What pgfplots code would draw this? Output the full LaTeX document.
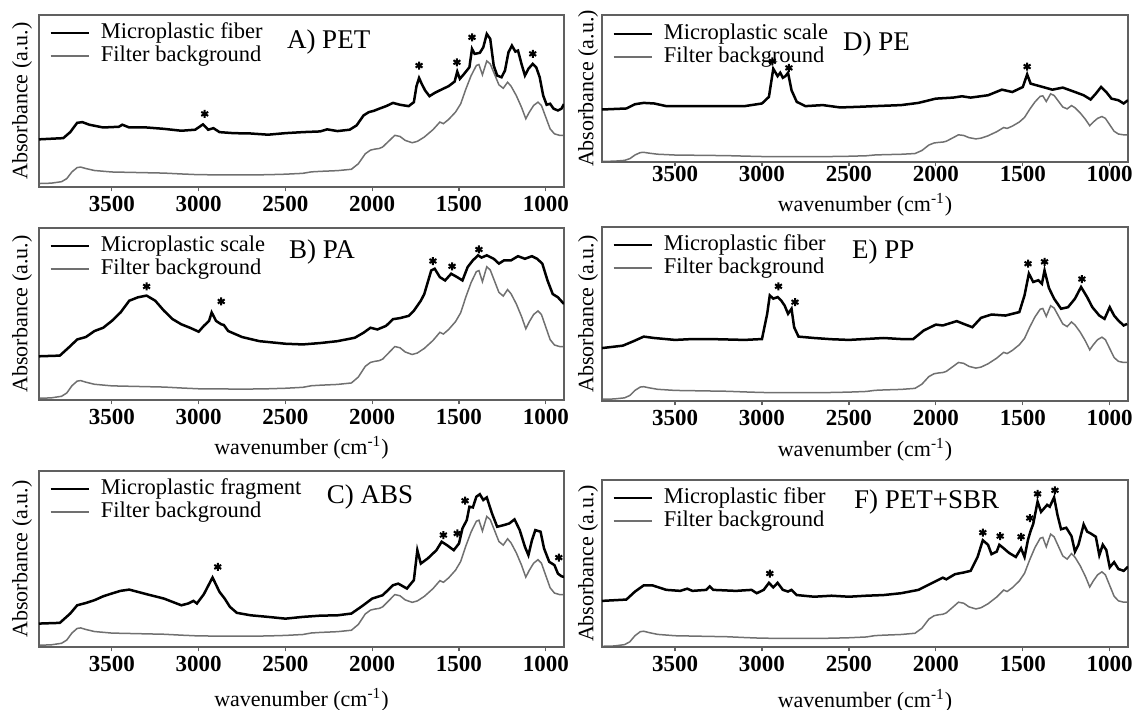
\documentclass[border=0pt]{standalone}
\usepackage{fontspec}
\setmainfont{Liberation Serif}
\usepackage{pgfplots}
\pgfplotsset{compat=1.18}
\usepackage{pgfplotstable}

\definecolor{bgray}{HTML}{707070}
\definecolor{framec}{HTML}{606060}

% filter background spectrum (same filter in every panel), relative units
\pgfplotstableread{
x g
3920 0.000
3850 0.003
3790 0.015
3760 0.040
3730 0.095
3700 0.130
3680 0.134
3650 0.122
3600 0.106
3500 0.094
3400 0.091
3300 0.088
3200 0.085
3100 0.078
3000 0.072
2900 0.071
2800 0.070
2700 0.070
2600 0.072
2500 0.076
2400 0.083
2350 0.095
2300 0.099
2200 0.105
2120 0.116
2080 0.161
2040 0.242
2010 0.272
1985 0.280
1960 0.285
1940 0.297
1900 0.351
1870 0.392
1840 0.383
1810 0.351
1770 0.332
1740 0.343
1700 0.378
1650 0.438
1610 0.500
1590 0.487
1560 0.521
1520 0.581
1490 0.649
1460 0.770
1430 0.878
1400 0.960
1385 0.968
1365 0.884
1340 0.997
1320 0.973
1300 0.905
1270 0.803
1245 0.775
1220 0.824
1200 0.792
1170 0.716
1140 0.621
1115 0.527
1095 0.580
1070 0.635
1045 0.662
1025 0.635
1000 0.540
975 0.445
950 0.404
920 0.392
895 0.392
}\filtertab

\pgfplotsset{
  panel/.style={scale only axis, x dir=reverse, xmin=895, xmax=3920},
  over/.style={panel, hide axis},
  main/.style={panel, ymin=0, ymax=1,
    axis line style={framec, line width=0.6pt},
    xtick={1000,1500,2000,2500,3000,3500}, ytick=\empty,
    xtick pos=left, xtick align=outside, major tick length=2.2pt,
    xtick style={framec, line width=0.6pt},
    xticklabel style={font=\fontsize{11.5}{12}\selectfont\bfseries, yshift=1pt},
    /pgf/number format/assume math mode=true, /pgf/number format/1000 sep={},
    ylabel={Absorbance (a.u.)},
    ylabel style={font=\fontsize{11}{12}\selectfont, at={(axis description cs:-0.0324,0.5)}, anchor=center},
    xlabel style={font=\fontsize{11}{12}\selectfont, at={(axis description cs:0.5,0)}, anchor=center},
    legend style={draw=none, fill=none, at={(axis description cs:0,1)}, anchor=north west,
      xshift=5pt, yshift=-3pt, inner sep=0pt, row sep=0pt, column sep=5pt,
      font=\fontsize{11.25}{12}\selectfont,
      nodes={inner sep=0.5pt, text height=8pt, text depth=2.5pt}},
    legend cell align=left,
    legend image code/.code={\draw[##1] (0pt,0pt) -- (19pt,0pt);},
  },
  spec/.style={black, line width=1.25pt},
  filt/.style={bgray, line width=0.75pt},
  stars/.style={only marks, mark=asterisk, mark size=2pt, black, mark options={line width=1pt}, forget plot},
}
\newcommand{\plabel}[3]{\node[anchor=west, font=\fontsize{13.5}{15}\selectfont] at (rel axis cs:#1,#2) {#3};}
\newcommand{\wn}{wavenumber (cm\textsuperscript{-1})}

\begin{document}
\begin{tikzpicture}
\path[use as bounding box] (0,0) rectangle (568.5pt,355pt);

% ---------------- A) PET ----------------
\begin{axis}[over, at={(19.5pt,261.5pt)}, anchor=south west, width=262.5pt, height=86pt, ymin=-0.028, ymax=1.371]
\addplot[filt] table[x=x,y=g] {\filtertab};
\end{axis}
\begin{axis}[main, at={(19.5pt,261.5pt)}, anchor=south west, width=262.5pt, height=86pt]
\addplot[spec] table {
3920 0.277
3780 0.284
3740 0.319
3700 0.373
3670 0.377
3630 0.362
3550 0.346
3460 0.350
3440 0.362
3400 0.346
3300 0.346
3200 0.338
3100 0.327
3020 0.333
2975 0.364
2945 0.333
2915 0.342
2880 0.319
2800 0.313
2700 0.311
2600 0.304
2500 0.313
2400 0.319
2300 0.323
2260 0.335
2200 0.325
2130 0.333
2090 0.358
2050 0.416
2020 0.435
1990 0.443
1960 0.455
1920 0.470
1880 0.489
1840 0.478
1790 0.470
1760 0.493
1745 0.586
1730 0.634
1715 0.600
1695 0.561
1670 0.528
1640 0.547
1600 0.567
1560 0.586
1525 0.613
1510 0.671
1495 0.629
1470 0.658
1440 0.696
1425 0.803
1410 0.774
1380 0.780
1360 0.812
1340 0.890
1320 0.861
1300 0.706
1280 0.648
1255 0.638
1235 0.677
1215 0.783
1195 0.822
1175 0.787
1160 0.793
1140 0.716
1120 0.648
1100 0.687
1075 0.716
1055 0.696
1035 0.638
1015 0.532
995 0.478
975 0.484
955 0.455
930 0.445
910 0.455
895 0.482
};
\addlegendentry{Microplastic fiber}
\addlegendimage{filt}
\addlegendentry{Filter background}
\addplot[stars] coordinates {(2965,0.425) (1730,0.706) (1512,0.725) (1425,0.870) (1075,0.774)};
\plabel{0.459}{0.84}{A) PET}
\end{axis}

% ---------------- B) PA ----------------
\begin{axis}[over, at={(19.5pt,155pt)}, anchor=south west, width=262.5pt, height=86pt, ymin=-0.013, ymax=1.291]
\addplot[filt] table[x=x,y=g] {\filtertab};
\end{axis}
\begin{axis}[main, at={(19.5pt,155pt)}, anchor=south west, width=262.5pt, height=86pt,
  xlabel={\wn}, xlabel style={yshift=-24pt}]
\addplot[spec] table {
3920 0.254
3800 0.258
3740 0.313
3700 0.352
3650 0.366
3600 0.401
3550 0.420
3500 0.460
3450 0.509
3400 0.577
3350 0.597
3300 0.607
3250 0.577
3200 0.519
3150 0.470
3100 0.440
3050 0.420
3000 0.397
2970 0.431
2940 0.460
2925 0.509
2900 0.460
2870 0.440
2855 0.436
2830 0.401
2750 0.366
2650 0.342
2500 0.327
2400 0.323
2300 0.331
2200 0.342
2100 0.362
2050 0.391
2010 0.420
1970 0.410
1920 0.431
1880 0.470
1840 0.476
1790 0.489
1760 0.519
1720 0.577
1700 0.616
1660 0.753
1640 0.763
1610 0.714
1580 0.695
1545 0.734
1510 0.714
1480 0.695
1450 0.773
1420 0.812
1390 0.841
1370 0.828
1340 0.841
1300 0.821
1270 0.793
1240 0.812
1200 0.812
1160 0.836
1120 0.821
1080 0.836
1050 0.821
1020 0.793
990 0.695
960 0.616
930 0.597
895 0.558
};
\addlegendentry{Microplastic scale}
\addlegendimage{filt}
\addlegendentry{Filter background}
\addplot[stars] coordinates {(3300,0.660) (2870,0.573) (1650,0.808) (1540,0.777) (1385,0.875)};
\plabel{0.463}{0.86}{B) PA}
\end{axis}

% ---------------- C) ABS ----------------
\begin{axis}[over, at={(19.5pt,31.5pt)}, anchor=south west, width=262.5pt, height=88pt, ymin=-0.0136, ymax=1.349]
\addplot[filt] table[x=x,y=g] {\filtertab};
\end{axis}
\begin{axis}[main, at={(19.5pt,31.5pt)}, anchor=south west, width=262.5pt, height=88pt,
  xlabel={\wn}, xlabel style={yshift=-26.5pt}]
\addplot[spec] table {
3920 0.133
3800 0.137
3740 0.190
3700 0.237
3650 0.250
3600 0.266
3550 0.288
3500 0.304
3450 0.319
3400 0.326
3350 0.313
3300 0.300
3200 0.275
3100 0.237
3060 0.247
3030 0.262
3010 0.247
2970 0.300
2920 0.395
2880 0.313
2850 0.275
2820 0.228
2780 0.194
2700 0.180
2600 0.171
2500 0.161
2400 0.171
2300 0.178
2200 0.180
2120 0.190
2060 0.231
2000 0.275
1940 0.294
1880 0.351
1850 0.360
1800 0.332
1760 0.380
1740 0.550
1720 0.474
1680 0.503
1630 0.550
1600 0.598
1570 0.579
1530 0.550
1500 0.588
1480 0.674
1455 0.721
1440 0.797
1420 0.793
1400 0.854
1380 0.868
1360 0.835
1340 0.850
1310 0.759
1280 0.683
1240 0.693
1210 0.702
1180 0.725
1150 0.664
1120 0.569
1100 0.522
1080 0.605
1060 0.664
1030 0.655
1010 0.560
980 0.484
950 0.465
930 0.417
910 0.402
895 0.398
};
\addlegendentry{Microplastic fragment}
\addlegendimage{filt}
\addlegendentry{Filter background}
\addplot[stars] coordinates {(2890,0.455) (1590,0.636) (1510,0.645) (1465,0.831) (925,0.508)};
\plabel{0.535}{0.852}{C) ABS}
\end{axis}

% ---------------- D) PE ----------------
\begin{axis}[over, at={(301pt,274pt)}, anchor=south west, width=263pt, height=73.5pt, ymin=-0.0087, ymax=2.161]
\addplot[filt] table[x=x,y=g] {\filtertab};
\end{axis}
\begin{axis}[main, at={(301pt,274pt)}, anchor=south west, width=263pt, height=73.5pt,
  xlabel={\wn}, xlabel style={yshift=-21.5pt}, xticklabel style={yshift=2.5pt},
  legend style={yshift=-0.5pt},
  ylabel style={at={(axis description cs:-0.0266,0.5)}}]
\addplot[spec] table {
3920 0.357
3780 0.364
3730 0.393
3680 0.402
3620 0.398
3550 0.380
3400 0.380
3300 0.380
3100 0.380
3000 0.398
2960 0.443
2935 0.634
2910 0.584
2895 0.607
2880 0.573
2865 0.584
2850 0.607
2830 0.488
2800 0.409
2750 0.380
2650 0.387
2550 0.371
2450 0.375
2350 0.380
2200 0.387
2100 0.402
2000 0.431
1900 0.438
1850 0.447
1800 0.438
1700 0.454
1620 0.492
1560 0.476
1500 0.510
1475 0.596
1455 0.533
1400 0.515
1330 0.492
1270 0.506
1200 0.476
1150 0.454
1110 0.425
1080 0.465
1050 0.510
1020 0.476
990 0.431
950 0.420
920 0.398
895 0.420
};
\addlegendentry{Microplastic scale}
\addlegendimage{filt}
\addlegendentry{Filter background}
\addplot[stars] coordinates {(2940,0.685) (2845,0.640) (1475,0.649)};
\plabel{0.445}{0.80}{D) PE}
\end{axis}

% ---------------- E) PP ----------------
\begin{axis}[over, at={(301pt,154.5pt)}, anchor=south west, width=263pt, height=87pt, ymin=-0.0186, ymax=1.837]
\addplot[filt] table[x=x,y=g] {\filtertab};
\end{axis}
\begin{axis}[main, at={(301pt,154.5pt)}, anchor=south west, width=263pt, height=87pt,
  xlabel={\wn}, xlabel style={yshift=-24.5pt},
  ylabel style={at={(axis description cs:-0.0266,0.5)}}]
\addplot[spec] table {
3920 0.304
3800 0.318
3740 0.343
3680 0.370
3620 0.362
3500 0.351
3400 0.356
3300 0.356
3100 0.351
3000 0.356
2970 0.501
2955 0.607
2935 0.588
2910 0.597
2890 0.578
2870 0.549
2850 0.501
2830 0.530
2815 0.424
2790 0.370
2700 0.362
2600 0.355
2500 0.351
2300 0.362
2200 0.356
2130 0.356
2070 0.405
2000 0.439
1960 0.434
1880 0.459
1840 0.443
1790 0.424
1740 0.478
1680 0.497
1600 0.491
1520 0.511
1490 0.607
1465 0.732
1440 0.684
1410 0.694
1390 0.674
1375 0.751
1350 0.650
1320 0.588
1280 0.530
1240 0.539
1200 0.588
1165 0.655
1130 0.597
1100 0.539
1060 0.491
1030 0.472
1000 0.539
975 0.491
950 0.462
920 0.434
900 0.443
};
\addlegendentry{Microplastic fiber}
\addlegendimage{filt}
\addlegendentry{Filter background}
\addplot[stars] coordinates {(2905,0.659) (2810,0.568) (1470,0.789) (1375,0.800) (1160,0.701)};
\plabel{0.462}{0.856}{E) PP}
\end{axis}

% ---------------- F) PET+SBR ----------------
\begin{axis}[over, at={(301pt,31.5pt)}, anchor=south west, width=263pt, height=83.5pt, ymin=-0.006, ymax=1.478]
\addplot[filt] table[x=x,y=g] {\filtertab};
\end{axis}
\begin{axis}[main, at={(301pt,31.5pt)}, anchor=south west, width=263pt, height=83.5pt,
  xlabel={\wn}, xlabel style={yshift=-27pt},
  ylabel style={at={(axis description cs:-0.0266,0.5)}}]
\addplot[spec] table {
3920 0.276
3780 0.284
3730 0.332
3680 0.369
3630 0.369
3550 0.342
3470 0.336
3430 0.349
3400 0.336
3320 0.342
3300 0.363
3280 0.342
3150 0.336
3060 0.342
3030 0.322
2990 0.342
2960 0.384
2935 0.357
2910 0.384
2880 0.342
2850 0.332
2830 0.342
2800 0.311
2700 0.301
2600 0.307
2500 0.301
2400 0.307
2300 0.311
2200 0.322
2100 0.342
2020 0.384
1960 0.415
1940 0.405
1890 0.436
1840 0.446
1800 0.456
1760 0.539
1730 0.639
1700 0.612
1680 0.556
1650 0.571
1635 0.612
1610 0.591
1580 0.564
1540 0.539
1510 0.591
1490 0.539
1470 0.643
1455 0.695
1440 0.737
1415 0.871
1395 0.809
1360 0.851
1345 0.840
1320 0.896
1300 0.788
1280 0.705
1250 0.714
1220 0.664
1200 0.571
1180 0.612
1150 0.734
1130 0.691
1110 0.680
1080 0.660
1060 0.550
1040 0.612
1020 0.581
1000 0.477
975 0.508
950 0.467
920 0.456
895 0.481
};
\addlegendentry{Microplastic fiber}
\addlegendimage{filt}
\addlegendentry{Filter background}
\addplot[stars] coordinates {(2955,0.440) (1730,0.685) (1630,0.664) (1510,0.660) (1460,0.772) (1415,0.917) (1315,0.938)};
\plabel{0.466}{0.868}{F) PET+SBR}
\end{axis}

\end{tikzpicture}
\end{document}
